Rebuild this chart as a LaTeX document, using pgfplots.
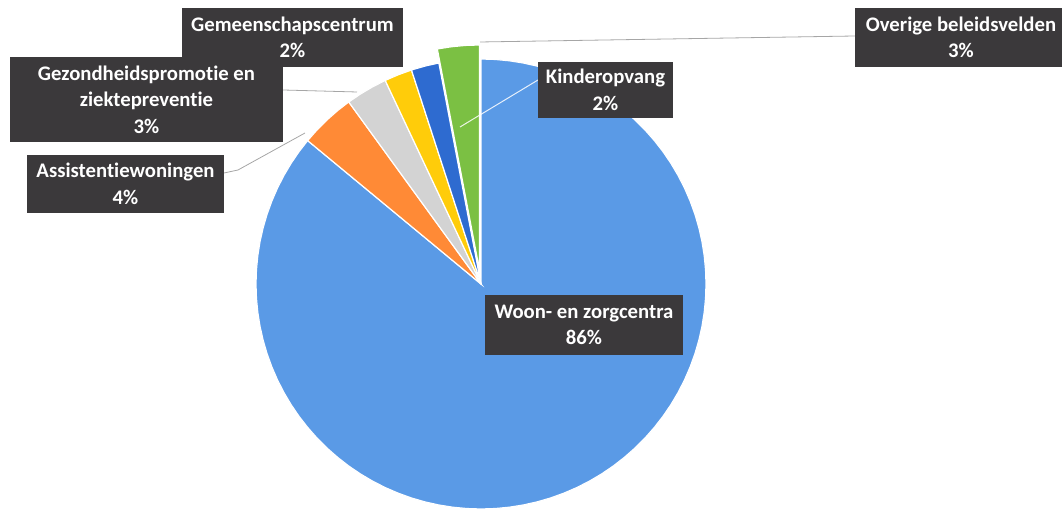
\documentclass[border=0pt]{standalone}
\usepackage{pgfplots}
\pgfplotsset{compat=1.18}
\usepackage{fontspec}
\setmainfont{Carlito}[Ligatures=NoCommon]
\definecolor{cBlue}{HTML}{5A9AE6}
\definecolor{cOrange}{HTML}{FF8A36}
\definecolor{cGray}{HTML}{D3D3D3}
\definecolor{cYellow}{HTML}{FFCC0A}
\definecolor{cDBlue}{HTML}{2E6BD0}
\definecolor{cGreen}{HTML}{7BC043}
\definecolor{cBox}{HTML}{3B393B}
\definecolor{cLead}{HTML}{A6A6A6}
\tikzset{lbl/.style={fill=cBox, text=white, inner sep=0pt, align=center,
    font=\fontsize{20.8}{26.5}\selectfont\bfseries}}
% Shares: Woon- en zorgcentra 86, Assistentiewoningen 4, Gezondheidspromotie 3,
% Gemeenschapscentrum 2, Kinderopvang 2, Overige beleidsvelden 3 (percent, clockwise from top)
\begin{document}
\begin{tikzpicture}
\begin{axis}[
  x=1bp, y=1bp,
  xmin=-481, xmax=581, ymin=-227, ymax=284,
  hide axis, clip=false,
]
% Woon- en zorgcentra 86% (polar: angle, radius)
\addplot[data cs=polar, fill=cBlue, draw=white, line width=1.2bp] coordinates {
 (0,0) (90,225) (86.4,225) (82.8,225) (79.2,225) (75.6,225) (72,225) (68.4,225) (64.8,225)
 (61.2,225) (57.6,225) (54,225) (50.4,225) (46.8,225) (43.2,225) (39.6,225) (36,225)
 (32.4,225) (28.8,225) (25.2,225) (21.6,225) (18,225) (14.4,225) (10.8,225) (7.2,225)
 (3.6,225) (0,225) (-3.6,225) (-7.2,225) (-10.8,225) (-14.4,225) (-18,225) (-21.6,225)
 (-25.2,225) (-28.8,225) (-32.4,225) (-36,225) (-39.6,225) (-43.2,225) (-46.8,225)
 (-50.4,225) (-54,225) (-57.6,225) (-61.2,225) (-64.8,225) (-68.4,225) (-72,225)
 (-75.6,225) (-79.2,225) (-82.8,225) (-86.4,225) (-90,225) (-93.6,225) (-97.2,225)
 (-100.8,225) (-104.4,225) (-108,225) (-111.6,225) (-115.2,225) (-118.8,225) (-122.4,225)
 (-126,225) (-129.6,225) (-133.2,225) (-136.8,225) (-140.4,225) (-144,225) (-147.6,225)
 (-151.2,225) (-154.8,225) (-158.4,225) (-162,225) (-165.6,225) (-169.2,225) (-172.8,225)
 (-176.4,225) (-180,225) (-183.6,225) (-187.2,225) (-190.8,225) (-194.4,225) (-198,225)
 (-201.6,225) (-205.2,225) (-208.8,225) (-212.4,225) (-216,225) (-219.6,225)
} -- cycle;
% Assistentiewoningen 4%
\addplot[data cs=polar, fill=cOrange, draw=white, line width=1.2bp] coordinates {
 (0,0) (-219.6,225) (-223.2,225) (-226.8,225) (-230.4,225) (-234,225)
} -- cycle;
% Gezondheidspromotie en ziektepreventie 3%
\addplot[data cs=polar, fill=cGray, draw=white, line width=1.2bp] coordinates {
 (0,0) (-234,225) (-237.6,225) (-241.2,225) (-244.8,225)
} -- cycle;
% Gemeenschapscentrum 2%
\addplot[data cs=polar, fill=cYellow, draw=white, line width=1.2bp] coordinates {
 (0,0) (-244.8,225) (-248.4,225) (-252,225)
} -- cycle;
% Kinderopvang 2%
\addplot[data cs=polar, fill=cDBlue, draw=white, line width=1.2bp] coordinates {
 (0,0) (-252,225) (-255.6,225) (-259.2,225)
} -- cycle;
% Overige beleidsvelden 3% (exploded slice)
\addplot[fill=cGreen, draw=white, line width=1.2bp] coordinates {
 (-1.5,14) (-43.66,235.02) (-29.70,237.22) (-15.63,238.56) (-1.5,239)
} -- cycle;

% leader lines
\addplot[cLead, line width=0.8bp] coordinates {(-1,242) (374,248)};
\addplot[cLead, line width=0.8bp] coordinates {(-198,194) (-124,192)};
\addplot[cLead, line width=0.8bp] coordinates {(-257,111) (-243,114) (-176,151)};
\addplot[white, opacity=0.85, line width=1bp] coordinates {(57,204) (-21,157)};

% labels
\node[lbl, minimum width=221bp, minimum height=59bp] at (axis cs:-188.5,246.5) {Gemeenschapscentrum\\2\%};
\node[lbl, minimum width=273bp, minimum height=85bp] at (axis cs:-334.5,184.5) {Gezondheidspromotie en\\ziektepreventie\\3\%};
\node[lbl, minimum width=197bp, minimum height=58bp] at (axis cs:-355.5,100) {Assistentiewoningen\\4\%};
\node[lbl, minimum width=212bp, minimum height=59bp] at (axis cs:480,246.5) {Overige beleidsvelden\\3\%};
\node[lbl, minimum width=135bp, minimum height=56bp] at (axis cs:124.5,194) {Kinderopvang\\2\%};
\node[lbl, minimum width=198bp, minimum height=60bp] at (axis cs:103,-41) {Woon- en zorgcentra\\86\%};
\end{axis}
\pgfresetboundingbox
\path (current axis.south west) rectangle (current axis.north east);
\end{tikzpicture}
\end{document}
